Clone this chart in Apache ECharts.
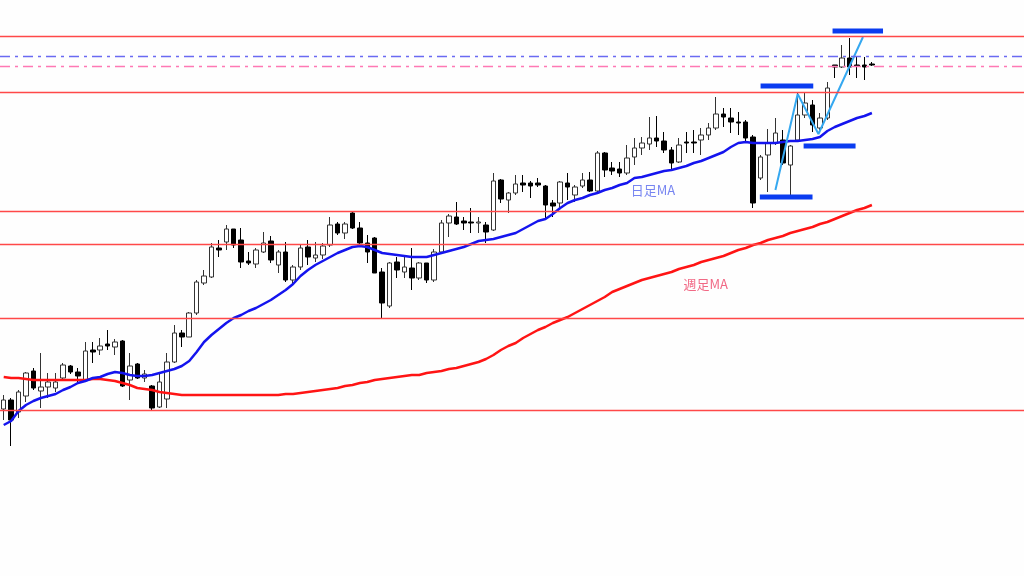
<!DOCTYPE html>
<html><head><meta charset="utf-8">
<script src="https://cdn.jsdelivr.net/npm/echarts@6/dist/echarts.min.js"></script>
<style>html,body{margin:0;padding:0;background:#fefefe}#c{width:1024px;height:576px}</style>
</head><body><div id="c"></div>
<script>
// Candle values [price]
const opens = [150.91,151.00,150.88,151.04,151.29,151.09,151.13,151.12,151.22,151.34,151.28,151.20,151.50,151.50,151.56,151.53,151.59,151.20,151.36,151.22,151.14,150.93,151.01,151.38,151.67,151.63,151.87,152.17,152.23,152.52,152.58,152.71,152.60,152.39,152.36,152.48,152.59,152.35,152.48,152.20,152.33,152.53,152.42,152.45,152.55,152.76,152.67,152.87,152.72,152.57,152.62,152.28,151.94,152.38,152.28,152.32,152.22,152.37,152.20,152.48,152.77,152.83,152.79,152.78,152.77,152.75,152.70,153.20,153.00,153.07,153.17,153.17,153.17,153.14,152.97,152.97,153.17,153.05,153.14,153.20,153.09,153.47,153.32,153.31,153.27,153.43,153.52,153.56,153.62,153.59,153.50,153.38,153.58,153.58,153.60,153.65,153.72,153.86,153.82,153.78,153.78,153.63,153.22,153.45,153.57,153.60,153.35,153.60,153.85,153.95,153.72,153.82,154.35,154.33,154.42,154.35,154.35,154.36];
const closes = [151.00,150.80,151.08,151.27,151.12,151.13,151.18,151.18,151.35,151.28,151.24,151.49,151.48,151.54,151.54,151.58,151.14,151.34,151.22,151.26,150.92,151.18,151.38,151.67,151.63,151.87,152.18,152.24,152.53,152.50,152.71,152.55,152.38,152.37,152.50,152.57,152.40,152.48,152.20,152.33,152.52,152.43,152.45,152.54,152.75,152.67,152.76,152.72,152.57,152.48,152.27,151.97,152.37,152.30,152.33,152.22,152.37,152.20,152.48,152.77,152.84,152.76,152.77,152.77,152.78,152.68,153.19,153.01,153.07,153.16,153.15,153.14,153.15,152.95,152.94,153.18,153.13,153.13,153.20,153.09,153.47,153.30,153.29,153.27,153.42,153.52,153.57,153.62,153.59,153.50,153.37,153.55,153.57,153.57,153.65,153.72,153.86,153.83,153.78,153.77,153.62,152.97,153.43,153.57,153.67,153.37,153.54,153.85,153.97,153.75,153.82,154.12,154.33,154.42,154.33,154.34,154.33,154.35];
const lows = [150.80,150.54,150.82,150.98,151.10,150.92,151.02,151.08,151.20,151.26,151.18,151.20,151.37,151.45,151.50,151.45,151.13,151.00,151.21,151.18,150.90,150.92,150.92,151.37,151.53,151.63,151.85,152.15,152.22,152.43,152.50,152.52,152.32,152.35,152.32,152.47,152.37,152.27,152.18,152.15,152.30,152.35,152.38,152.41,152.53,152.65,152.61,152.71,152.55,152.37,152.27,151.82,151.92,152.22,152.22,152.10,152.20,152.17,152.18,152.47,152.63,152.75,152.70,152.67,152.67,152.57,152.69,152.97,152.87,153.05,153.08,153.02,153.13,152.80,152.83,152.90,153.00,152.98,153.12,153.08,153.08,153.23,153.25,153.23,153.25,153.35,153.45,153.50,153.53,153.47,153.30,153.37,153.47,153.47,153.45,153.60,153.70,153.73,153.67,153.65,153.58,152.92,153.20,153.08,153.55,153.35,153.05,153.58,153.82,153.68,153.67,153.80,154.22,154.32,154.25,154.22,154.20,154.34];
const highs = [151.05,151.02,151.10,151.28,151.32,151.47,151.27,151.27,151.37,151.35,151.32,151.58,151.58,151.62,151.70,151.61,151.60,151.47,151.37,151.30,151.15,151.28,151.47,151.75,151.70,151.88,152.20,152.30,152.57,152.60,152.75,152.71,152.72,152.48,152.52,152.68,152.64,152.50,152.58,152.35,152.55,152.60,152.58,152.57,152.83,152.78,152.78,152.88,152.78,152.65,152.63,152.32,152.38,152.43,152.43,152.52,152.38,152.37,152.51,152.80,152.86,152.98,152.83,152.92,152.83,152.78,153.27,153.21,153.08,153.25,153.25,153.19,153.22,153.15,153.00,153.19,153.27,153.15,153.27,153.28,153.49,153.48,153.38,153.38,153.55,153.62,153.63,153.83,153.84,153.68,153.53,153.62,153.68,153.70,153.72,153.77,154.03,153.92,153.92,153.88,153.80,153.65,153.45,153.71,153.82,153.70,153.55,154.08,154.07,154.00,153.87,154.18,154.35,154.55,154.62,154.43,154.43,154.38];
// Moving averages
const dailyMA = [150.75,150.79,150.89,150.95,150.99,151.02,151.04,151.06,151.10,151.13,151.17,151.19,151.22,151.23,151.26,151.28,151.27,151.25,151.24,151.24,151.25,151.27,151.29,151.31,151.34,151.39,151.48,151.58,151.65,151.71,151.77,151.82,151.85,151.89,151.92,151.96,152.00,152.05,152.10,152.16,152.24,152.30,152.35,152.39,152.43,152.47,152.50,152.53,152.54,152.53,152.50,152.47,152.46,152.45,152.44,152.43,152.43,152.43,152.45,152.47,152.49,152.51,152.53,152.56,152.59,152.60,152.61,152.63,152.65,152.67,152.71,152.75,152.79,152.81,152.86,152.92,152.97,153.00,153.02,153.05,153.07,153.10,153.12,153.15,153.17,153.22,153.23,153.25,153.27,153.29,153.30,153.32,153.34,153.37,153.39,153.42,153.45,153.48,153.53,153.57,153.58,153.57,153.57,153.57,153.57,153.58,153.59,153.59,153.60,153.61,153.63,153.69,153.73,153.76,153.79,153.82,153.84,153.87];
const weeklyMA = [151.23,151.22,151.22,151.21,151.20,151.20,151.20,151.20,151.20,151.20,151.20,151.20,151.21,151.21,151.20,151.19,151.17,151.15,151.12,151.11,151.10,151.08,151.07,151.06,151.05,151.05,151.05,151.05,151.05,151.05,151.05,151.05,151.05,151.05,151.05,151.05,151.05,151.05,151.06,151.06,151.07,151.08,151.09,151.10,151.11,151.12,151.14,151.15,151.17,151.18,151.20,151.21,151.22,151.23,151.24,151.25,151.25,151.27,151.28,151.29,151.31,151.32,151.34,151.36,151.38,151.41,151.45,151.50,151.54,151.57,151.62,151.66,151.70,151.73,151.77,151.80,151.83,151.87,151.91,151.95,151.99,152.03,152.08,152.11,152.14,152.17,152.20,152.22,152.24,152.26,152.28,152.31,152.33,152.35,152.38,152.40,152.42,152.44,152.47,152.50,152.52,152.55,152.57,152.60,152.62,152.64,152.67,152.69,152.71,152.73,152.76,152.78,152.81,152.84,152.87,152.90,152.92,152.95];
// Horizontal levels
const redLevels = [154.64, 154.08, 152.89, 152.56, 151.82, 150.90];
const blueDashLevel = 154.44;
const pinkDashLevel = 154.34;
// Annotations (x in bar units)
const zigzag = [[104.5,153.10],[107.5,154.06],[110.3,153.66],[116.3,154.63]];
const bars = [[102.5,109.6,154.14],[102.4,109.5,153.03],[108.3,115.3,153.54],[112.2,119.0,154.69]];
const labels = [{name:'日足MA', x:88.0, y:153.10, color:'#5566ee'},{name:'週足MA', x:95.1, y:152.16, color:'#ee4466'}];
const totalSlots = 138;

const cats = [];
for (let i = 0; i < totalSlots; i++) cats.push(String(i));
const candles = opens.map((o, i) => [o, closes[i], lows[i], highs[i]]);

const series = [
  {
    type: 'candlestick', data: candles, barWidth: 5,
    itemStyle: {color:'#ffffff', color0:'#000000', borderColor:'#333333', borderColor0:'#000000', borderWidth:1},
    markLine: {
      silent: true, symbol: 'none', label: {show:false},
      data: [
        ...redLevels.map(v => ({yAxis: v, lineStyle: {color:'#ff4848', width:1.3, type:'solid'}})),
        {yAxis: blueDashLevel, lineStyle: {color:'#6a6af2', width:1.3, type:[10,5,3,5]}},
        {yAxis: pinkDashLevel, lineStyle: {color:'#ff78b4', width:1.3, type:[10,5,3,5]}}
      ]
    },
    z: 2
  },
  {type:'line', data: weeklyMA, symbol:'none', lineStyle:{color:'#ff1414', width:2.5}, z:3},
  {type:'line', data: dailyMA, symbol:'none', lineStyle:{color:'#1414ee', width:2.5}, z:3},
  {type:'line', xAxisIndex:1, data: zigzag, symbol:'none', lineStyle:{color:'#35a8f0', width:2}, z:4}
];
bars.forEach(b => series.push({type:'line', xAxisIndex:1, data:[[b[0],b[2]],[b[1],b[2]]], symbol:'none', lineStyle:{color:'#0a3cf0', width:5, cap:'butt'}, z:4}));
labels.forEach(l => series.push({type:'scatter', xAxisIndex:1, symbolSize:0, data:[{name:l.name, value:[l.x, l.y]}],
  label:{show:true, position:'inside', formatter:'{b}', color:l.color, fontSize:13, fontFamily:'"Noto Sans CJK JP", sans-serif'}, z:5}));

const chart = echarts.init(document.getElementById('c'), null, {renderer:'canvas'});
chart.setOption({
  backgroundColor: '#fefefe',
  animation: false,
  grid: {left: -1.7, right: -2.4, top: 0, bottom: 0},
  xAxis: [
    {type:'category', data: cats, show:false, boundaryGap:true},
    {type:'value', min:0, max:totalSlots, show:false}
  ],
  yAxis: {type:'value', min:149.24, max:155, show:false, splitLine:{show:false}},
  series: series
});
</script></body></html>
